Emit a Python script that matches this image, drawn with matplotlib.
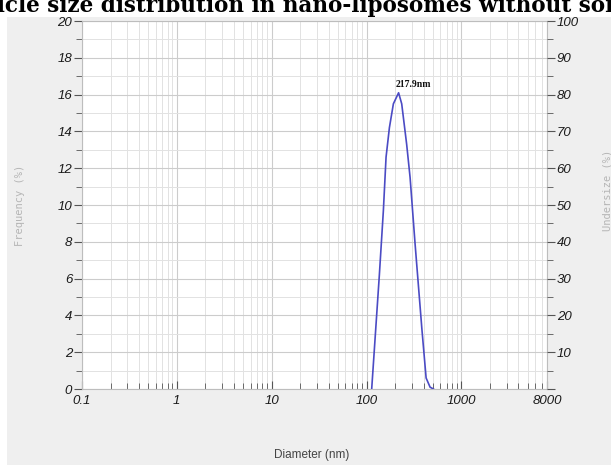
import numpy as np
import matplotlib
matplotlib.use("Agg")
import matplotlib.pyplot as plt
from matplotlib.patches import Rectangle
from matplotlib.ticker import FixedLocator, FixedFormatter, NullFormatter

plt.rcParams["font.family"] = "Liberation Sans"

# size distribution
diameter_nm = [113.4, 136.6, 150.6, 160.7, 174.3, 192.0, 217.9, 235.0, 265.0,
               288.0, 325.0, 383.0, 425.0, 468.0, 508.0]
frequency_pct = [0.0, 6.2, 9.7, 12.6, 14.2, 15.5, 16.1, 15.5, 13.3,
                 11.5, 7.9, 3.3, 0.6, 0.1, 0.0]
peak_nm = 217.9
peak_freq = 16.1

x_ticks = [0.1, 1, 10, 100, 1000, 8000]
x_ticklabels = ["0.1", "1", "10", "100", "1000", "8000"]
freq_ticks = list(range(0, 21, 2))
under_ticks = list(range(0, 101, 10))
under_ticklabels = [""] + [str(v) for v in under_ticks[1:]]

W, H = 611, 465
fig = plt.figure(figsize=(W / 100, H / 100), dpi=100, facecolor="white")

# grey panel behind the plot, title sits on the white band above it
fig.add_artist(Rectangle((7 / W, 0), 1 - 7 / W, 1 - 17 / H,
                         transform=fig.transFigure, facecolor="#efefef",
                         edgecolor="none", zorder=-10))

fig.text(-54 / W, 1 - 6 / H,
         "Particle size distribution in nano-liposomes without sonication",
         ha="left", va="center", fontsize=15.5, fontweight="bold",
         family="DejaVu Serif", color="black")

ax = fig.add_axes([82 / W, 1 - 389 / H, (547 - 82) / W, (389 - 21) / H])
ax.set_facecolor("white")
ax.set_xscale("log")
ax.set_xlim(0.1, 8000)
ax.set_ylim(0, 20)

# grid: every decade subdivision vertically, every 1 % horizontally
minor_x = [m * 10.0 ** e for e in range(-1, 4) for m in range(2, 10) if m * 10.0 ** e < 8000]
ax.xaxis.set_major_locator(FixedLocator(x_ticks))
ax.xaxis.set_major_formatter(FixedFormatter(x_ticklabels))
ax.xaxis.set_minor_locator(FixedLocator(minor_x))
ax.xaxis.set_minor_formatter(NullFormatter())
ax.yaxis.set_major_locator(FixedLocator(freq_ticks))
ax.yaxis.set_minor_locator(FixedLocator(list(range(1, 20, 2))))

ax.grid(which="major", color="#cccccc", lw=0.8)
ax.grid(which="minor", color="#e2e2e2", lw=0.7)
ax.set_axisbelow(True)

ax.tick_params(axis="x", which="major", direction="in", length=6, color="#555555",
               labelsize=9.5, labelcolor="#1a1a1a", pad=4)
ax.tick_params(axis="x", which="minor", direction="in", length=4, color="#555555")
ax.tick_params(axis="y", which="major", direction="out", length=6, color="#555555",
               labelsize=9.5, labelcolor="#1a1a1a", pad=1)
ax.tick_params(axis="y", which="minor", direction="out", length=4, color="#555555")
for lab in ax.get_xticklabels() + ax.get_yticklabels():
    lab.set_fontstyle("italic")

for s in ax.spines.values():
    s.set_color("#bdbdbd")
    s.set_linewidth(0.8)

ax2 = ax.twinx()
ax2.set_ylim(0, 100)
ax2.yaxis.set_major_locator(FixedLocator(under_ticks))
ax2.yaxis.set_major_formatter(FixedFormatter(under_ticklabels))
ax2.yaxis.set_minor_locator(FixedLocator(list(range(5, 100, 10))))
ax2.tick_params(axis="y", which="major", direction="out", length=6, color="#555555",
                labelsize=9.5, labelcolor="#1a1a1a", pad=1)
ax2.tick_params(axis="y", which="minor", direction="out", length=4, color="#555555")
for lab in ax2.get_yticklabels():
    lab.set_fontstyle("italic")
for s in ax2.spines.values():
    s.set_visible(False)

ax.plot(diameter_nm, frequency_pct, color="#4b4bc4", lw=1.2, zorder=3)
ax.annotate(f"{peak_nm}nm", (peak_nm, peak_freq), xytext=(-2, 3),
            textcoords="offset points", ha="left", va="bottom",
            fontsize=7, fontweight="bold", family="Liberation Serif", color="#111111")

fig.text(20 / W, 1 - 205 / H, "Frequency (%)", rotation=90, ha="center", va="center",
         fontsize=7.5, family="DejaVu Sans Mono", color="#b5b5b5")
fig.text(607 / W, 1 - 190 / H, "Undersize (%)", rotation=90, ha="center", va="center",
         fontsize=7.5, family="DejaVu Sans Mono", color="#b5b5b5")
fig.text(312 / W, 1 - 455 / H, "Diameter (nm)", ha="center", va="center",
         fontsize=8.5, color="#444444")

fig.savefig("out.png", dpi=100)
